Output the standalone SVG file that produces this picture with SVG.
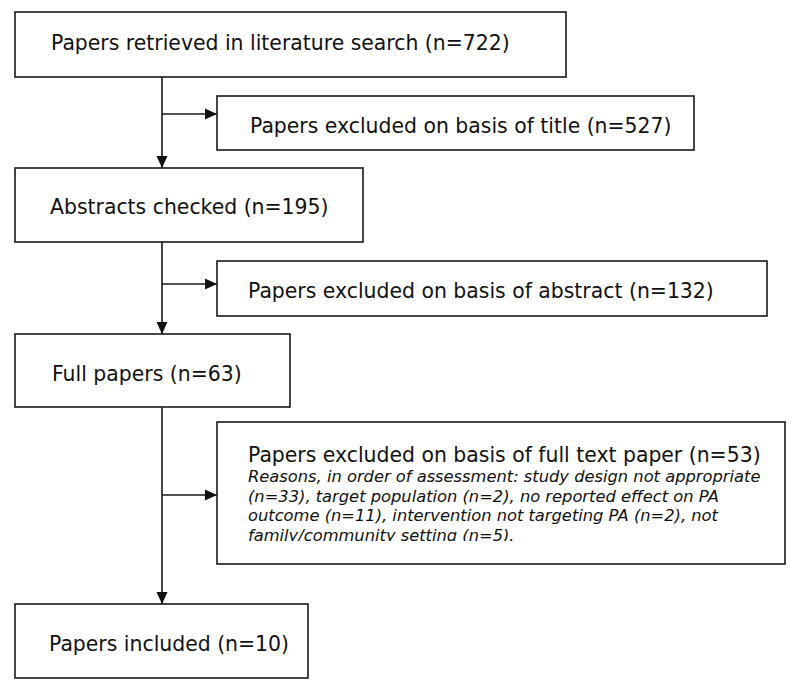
<svg xmlns="http://www.w3.org/2000/svg" width="800" height="690" viewBox="0 0 800 690">
<style>
  .box { fill: #ffffff; stroke: #1a1a1a; stroke-width: 1.6; }
  .t { font-family: "DejaVu Sans", Verdana, sans-serif; font-size: 20.4px; fill: #111; }
  .it { font-family: "DejaVu Sans", Verdana, sans-serif; font-size: 16.3px; font-style: italic; fill: #111; }
  .ln { stroke: #1a1a1a; stroke-width: 1.6; fill: none; }
</style>
<defs>
  <marker id="ah" markerUnits="userSpaceOnUse" markerWidth="12" markerHeight="12" viewBox="0 0 12 12" refX="12" refY="6" orient="auto">
    <path d="M0,0.5 L12,6 L0,11.5 Z" fill="#111"/>
  </marker>
  <clipPath id="clip6"><rect x="217" y="422" width="570" height="119"/></clipPath>
</defs>
<rect width="800" height="690" fill="#ffffff"/>

<g id="connectors">
  <line class="ln" x1="162" y1="77" x2="162" y2="168" marker-end="url(#ah)"/>
  <line class="ln" x1="162" y1="114" x2="217" y2="114" marker-end="url(#ah)"/>
  <line class="ln" x1="162" y1="242" x2="162" y2="334" marker-end="url(#ah)"/>
  <line class="ln" x1="162" y1="284" x2="217" y2="284" marker-end="url(#ah)"/>
  <line class="ln" x1="162" y1="407" x2="162" y2="604" marker-end="url(#ah)"/>
  <line class="ln" x1="162" y1="495" x2="217" y2="495" marker-end="url(#ah)"/>
</g>

<g id="n1">
  <rect class="box" x="15" y="12" width="551" height="65"/>
  <text class="t" x="51" y="50">Papers retrieved in literature search (n=722)</text>
</g>
<g id="n2">
  <rect class="box" x="217" y="96" width="477" height="54"/>
  <text class="t" x="250" y="133">Papers excluded on basis of title (n=527)</text>
</g>
<g id="n3">
  <rect class="box" x="15" y="168" width="348" height="74"/>
  <text class="t" x="50" y="214">Abstracts checked (n=195)</text>
</g>
<g id="n4">
  <rect class="box" x="217" y="261" width="550" height="55"/>
  <text class="t" x="248" y="298">Papers excluded on basis of abstract (n=132)</text>
</g>
<g id="n5">
  <rect class="box" x="15" y="334" width="275" height="73"/>
  <text class="t" x="52" y="381">Full papers (n=63)</text>
</g>
<g id="n6">
  <rect class="box" x="217" y="422" width="568" height="142"/>
  <text class="t" x="248" y="462">Papers excluded on basis of full text paper (n=53)</text>
  <g clip-path="url(#clip6)">
    <text class="it" x="248" y="482">Reasons, in order of assessment: study design not appropriate</text>
    <text class="it" x="248" y="501.5">(n=33), target population (n=2), no reported effect on PA</text>
    <text class="it" x="248" y="521">outcome (n=11), intervention not targeting PA (n=2), not</text>
    <text class="it" x="248" y="540.5">family/community setting (n=5).</text>
  </g>
</g>
<g id="n7">
  <rect class="box" x="15" y="604" width="293" height="74"/>
  <text class="t" x="49" y="651">Papers included (n=10)</text>
</g>
</svg>
